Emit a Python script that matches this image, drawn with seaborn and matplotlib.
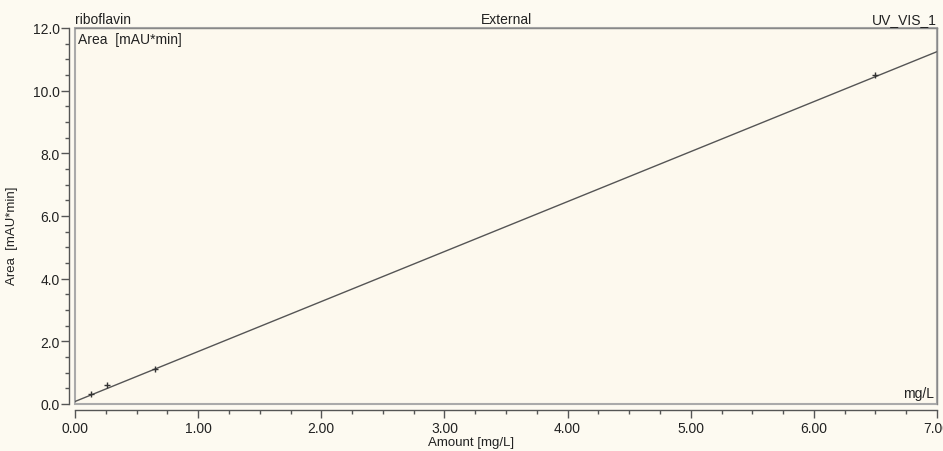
import numpy as np
import matplotlib
matplotlib.use("Agg")
import matplotlib.pyplot as plt
import seaborn as sns
from matplotlib.ticker import MultipleLocator
from matplotlib.patches import Rectangle

# calibration standards (amount mg/L, area mAU*min)
amount = [0.13, 0.26, 0.65, 6.50]
area = [0.32, 0.60, 1.11, 10.50]

# fitted calibration line
slope = 1.595
intercept = 0.08
x_range = [0.0, 7.0]

sns.set_theme(style="ticks")
plt.rcParams["font.family"] = ["Liberation Sans", "DejaVu Sans"]

fig = plt.figure(figsize=(9.43, 4.52), dpi=100, facecolor="#fdfaf1")
ax = fig.add_axes([75 / 943, 47 / 452, 862 / 943, 376 / 452])
ax.set_facecolor("#fdf9ee")

line_x = np.array(x_range)
sns.lineplot(x=line_x, y=intercept + slope * line_x, ax=ax, color="#555555", linewidth=1.0)
sns.scatterplot(x=amount, y=area, ax=ax, marker="+", s=16, color="#333333", linewidth=1.0, zorder=3)

ax.set_xlim(0, 7)
ax.set_ylim(0, 12)
ax.xaxis.set_major_locator(MultipleLocator(1))
ax.xaxis.set_minor_locator(MultipleLocator(0.25))
ax.yaxis.set_major_locator(MultipleLocator(2))
ax.yaxis.set_minor_locator(MultipleLocator(0.5))
ax.xaxis.set_major_formatter(lambda v, p: f"{v:.2f}")
ax.yaxis.set_major_formatter(lambda v, p: f"{v:.1f}")

for s in ["left", "bottom"]:
    ax.spines[s].set_position(("outward", 4))
    ax.spines[s].set_color("#555555")
    ax.spines[s].set_linewidth(1.0)
for s in ["top", "right"]:
    ax.spines[s].set_color("#888888")
    ax.spines[s].set_linewidth(1.0)

# inner frame on left/bottom
ax.add_patch(Rectangle((0, 0), 1, 1, transform=ax.transAxes, fill=False,
                       edgecolor="#aaaaaa", linewidth=1.5, clip_on=False, zorder=1))

ax.tick_params(axis="both", which="major", length=6, width=1, color="#555555", labelsize=10, labelcolor="#222222")
ax.tick_params(axis="both", which="minor", length=3, width=1, color="#555555")
ax.tick_params(axis="x", pad=2)
ax.tick_params(axis="y", pad=1)

ax.set_xlabel("Amount [mg/L]", fontsize=9.5, labelpad=1, color="#222222")
ax.set_ylabel("Area  [mAU*min]", fontsize=9.5, labelpad=8, color="#222222")
ax.xaxis.set_label_coords(0.46, -0.085)
ax.yaxis.set_label_coords(-0.066, 0.45)

ax.text(0.0, 1.005, "riboflavin", transform=ax.transAxes, ha="left", va="bottom", fontsize=10, color="#222222")
ax.text(0.5, 1.005, "External", transform=ax.transAxes, ha="center", va="bottom", fontsize=10, color="#222222")
ax.text(1.0, 1.005, "UV_VIS_1", transform=ax.transAxes, ha="right", va="bottom", fontsize=10, color="#222222")
ax.text(0.004, 0.99, "Area  [mAU*min]", transform=ax.transAxes, ha="left", va="top", fontsize=10, color="#222222")
ax.text(0.996, 0.01, "mg/L", transform=ax.transAxes, ha="right", va="bottom", fontsize=10, color="#222222")

fig.savefig("out.png", dpi=100, facecolor=fig.get_facecolor())
